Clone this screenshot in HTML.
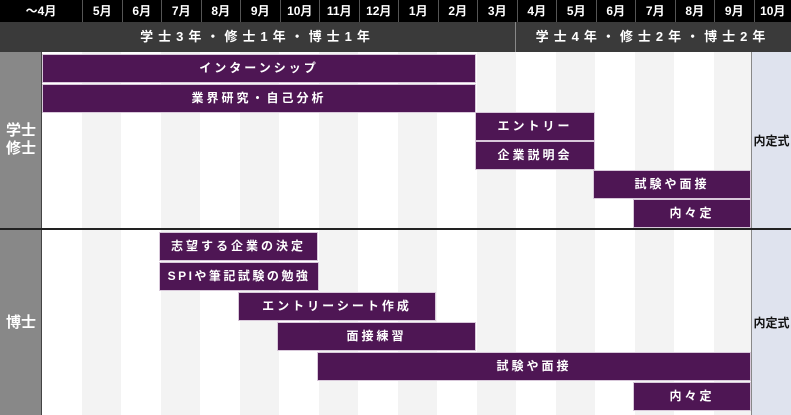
<!DOCTYPE html>
<html><head><meta charset="utf-8"><style>
*{margin:0;padding:0;box-sizing:border-box}
body{width:791px;height:415px;overflow:hidden;background:#fff;font-family:"Liberation Sans","Noto Sans CJK JP",sans-serif;position:relative}
.a{position:absolute}
.m{position:absolute;top:0;height:22px;color:#fff;font-weight:bold;font-size:12px;line-height:22px;text-align:center;border-left:1px solid #555}
.bar{position:absolute;background:#4e1654;color:#fff;font-weight:bold;font-size:12px;letter-spacing:3px;text-align:center;height:27px;line-height:27px;outline:1px solid #d8c8da}
.st{position:absolute;top:52px;bottom:0;background:#f3f3f3}
.lbl{position:absolute;color:#fff;font-weight:bold;font-size:15px;line-height:18px;text-align:center;width:42px}
.nt{position:absolute;left:752px;width:39px;text-align:center;font-weight:bold;font-size:12px;color:#111}
</style></head><body>
<div class="a" style="left:0;top:0;width:791px;height:22px;background:#000"></div>
<div class="a" style="left:0;top:22px;width:791px;height:30px;background:#3a3a3a"></div>
<div class="a" style="left:515px;top:22px;width:1px;height:30px;background:#888"></div>
<div class="a" style="left:0;top:22px;width:515px;height:30px;line-height:30px;text-align:center;color:#fff;font-weight:bold;font-size:13px;letter-spacing:5px">学士3年・修士1年・博士1年</div>
<div class="a" style="left:515px;top:22px;width:276px;height:30px;line-height:30px;text-align:center;color:#fff;font-weight:bold;font-size:13px;letter-spacing:5px">学士4年・修士2年・博士2年</div>
<div class="m" style="left:0;width:82px;border:none">〜4月</div>
<div class="m" style="left:82px;width:39.5px">5月</div>
<div class="m" style="left:121.5px;width:39.5px">6月</div>
<div class="m" style="left:161px;width:39.5px">7月</div>
<div class="m" style="left:200.5px;width:39.5px">8月</div>
<div class="m" style="left:240px;width:39.5px">9月</div>
<div class="m" style="left:279.5px;width:39.5px">10月</div>
<div class="m" style="left:319px;width:39.5px">11月</div>
<div class="m" style="left:358.5px;width:39.5px">12月</div>
<div class="m" style="left:398px;width:39.5px">1月</div>
<div class="m" style="left:437.5px;width:39.5px">2月</div>
<div class="m" style="left:477px;width:39.5px">3月</div>
<div class="m" style="left:516.5px;width:39.5px">4月</div>
<div class="m" style="left:556px;width:39.5px">5月</div>
<div class="m" style="left:595.5px;width:39.5px">6月</div>
<div class="m" style="left:635px;width:39.5px">7月</div>
<div class="m" style="left:674.5px;width:39.5px">8月</div>
<div class="m" style="left:714px;width:39.5px">9月</div>
<div class="m" style="left:753.5px;width:37.5px">10月</div>
<div class="st" style="left:82px;width:39px"></div>
<div class="st" style="left:161px;width:39px"></div>
<div class="st" style="left:240px;width:39px"></div>
<div class="st" style="left:319px;width:39px"></div>
<div class="st" style="left:398px;width:39px"></div>
<div class="st" style="left:477px;width:39px"></div>
<div class="st" style="left:556px;width:39px"></div>
<div class="st" style="left:635px;width:39px"></div>
<div class="st" style="left:714px;width:38px"></div>
<div class="st" style="left:752px;width:39px;background:#dfe3ee"></div>
<div class="a" style="left:751px;top:52px;width:1px;height:363px;background:#888"></div>
<div class="a" style="left:0;top:52px;width:41px;height:363px;background:#888"></div>
<div class="a" style="left:41px;top:52px;width:1px;height:363px;background:#444"></div>
<div class="a" style="left:0;top:228px;width:791px;height:2px;background:#222"></div>
<div class="lbl" style="top:122px">学士<br>修士</div>
<div class="lbl" style="top:314px">博士</div>
<div class="nt" style="top:132px">内定式</div>
<div class="nt" style="top:314px">内定式</div>
<div class="bar" style="left:43px;top:55px;width:432px">インターンシップ</div>
<div class="bar" style="left:43px;top:85px;width:432px">業界研究・自己分析</div>
<div class="bar" style="left:476px;top:113px;width:118px">エントリー</div>
<div class="bar" style="left:476px;top:142px;width:118px">企業説明会</div>
<div class="bar" style="left:594px;top:171px;width:156px">試験や面接</div>
<div class="bar" style="left:634px;top:200px;width:116px">内々定</div>
<div class="bar" style="left:160px;top:233px;width:157px">志望する企業の決定</div>
<div class="bar" style="left:160px;top:263px;width:158px;letter-spacing:2.5px">SPIや筆記試験の勉強</div>
<div class="bar" style="left:239px;top:293px;width:196px">エントリーシート作成</div>
<div class="bar" style="left:278px;top:323px;width:197px">面接練習</div>
<div class="bar" style="left:318px;top:353px;width:432px">試験や面接</div>
<div class="bar" style="left:634px;top:383px;width:116px">内々定</div>
</body></html>
